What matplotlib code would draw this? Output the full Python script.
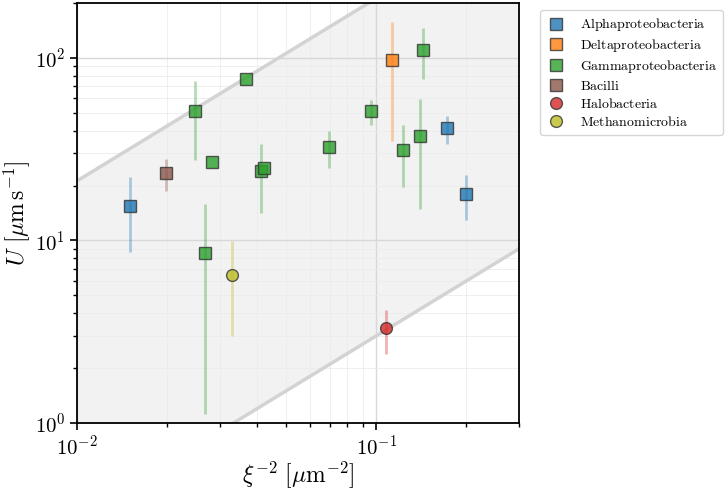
import numpy as np
import matplotlib
matplotlib.use("Agg")
import matplotlib.pyplot as plt

plt.rcParams['mathtext.fontset'] = 'cm'
plt.rcParams['font.family'] = 'serif'
plt.rcParams['font.serif'] = ['cmr10', 'DejaVu Serif']
plt.rcParams['axes.formatter.use_mathtext'] = True

classes = ["Alphaproteobacteria", "Deltaproteobacteria", "Gammaproteobacteria",
           "Bacilli", "Halobacteria", "Methanomicrobia"]
colors = ["tab:blue", "tab:orange", "tab:green", "tab:brown", "tab:red", "tab:olive"]
markers = ["s", "s", "s", "s", "o", "o"]

# xi^-2 [um^-2], U [um/s], error bar low/high
alpha_x = [0.0150, 0.173, 0.200]
alpha_u = [15.4, 41.1, 17.9]
alpha_lo = [8.6, 33.8, 13.0]
alpha_hi = [22.2, 48.2, 22.9]

delta_x = [0.1125]
delta_u = [97.0]
delta_lo = [34.9]
delta_hi = [158.0]

gamma_x = [0.0248, 0.0366, 0.0283, 0.0412, 0.0420, 0.0267, 0.0693, 0.0960, 0.1432, 0.1225, 0.1396]
gamma_u = [50.9, 77.1, 26.8, 24.0, 24.8, 8.57, 32.4, 50.9, 111.0, 31.5, 37.3]
gamma_lo = [27.6, 77.1, 26.8, 14.2, 24.8, 1.12, 25.0, 42.9, 76.5, 19.7, 14.9]
gamma_hi = [74.3, 77.1, 26.8, 33.8, 24.8, 15.9, 39.6, 58.9, 145.0, 43.0, 59.2]

bacilli_x = [0.0199]
bacilli_u = [23.3]
bacilli_lo = [18.7]
bacilli_hi = [27.8]

halo_x = [0.1077]
halo_u = [3.30]
halo_lo = [2.39]
halo_hi = [4.18]

methano_x = [0.0329]
methano_u = [6.46]
methano_lo = [3.01]
methano_hi = [9.92]

groups = [
    (alpha_x, alpha_u, alpha_lo, alpha_hi),
    (delta_x, delta_u, delta_lo, delta_hi),
    (gamma_x, gamma_u, gamma_lo, gamma_hi),
    (bacilli_x, bacilli_u, bacilli_lo, bacilli_hi),
    (halo_x, halo_u, halo_lo, halo_hi),
    (methano_x, methano_u, methano_lo, methano_hi),
]

# band boundaries U = k * xi^-2
k_upper = 2120.0
k_lower = 30.0

fig = plt.figure(figsize=(7.28, 4.91), dpi=100)
ax = fig.add_axes([0.1058, 0.1385, 0.6071, 0.8554])
ax.set_xscale("log")
ax.set_yscale("log")

xs = np.logspace(-2.2, 0, 200)
ax.fill_between(xs, k_lower * xs, k_upper * xs, color="#f2f2f2", zorder=0)
ax.plot(xs, k_upper * xs, color="#d3d3d3", lw=2.5, zorder=1)
ax.plot(xs, k_lower * xs, color="#d3d3d3", lw=2.5, zorder=1)

for (x, u, lo, hi), c, m, name in zip(groups, colors, markers, classes):
    x = np.array(x); u = np.array(u)
    yerr = np.array([u - np.array(lo), np.array(hi) - u])
    ax.errorbar(x, u, yerr=yerr, fmt="none", ecolor=c, alpha=0.35, elinewidth=2, zorder=2)
    ax.plot(x, u, ls="none", marker=m, ms=8.5, mfc=c, mec="#333333",
            alpha=0.8, mew=1.0, label=r"$\mathrm{%s}$" % name, zorder=3)

ax.set_xlim(0.01, 0.3)
ax.set_ylim(1, 200)
ax.grid(True, which="major", color="#d8d8d8", lw=1.0, zorder=0)
ax.grid(True, which="minor", color="#ececec", lw=0.6, zorder=0)
ax.set_axisbelow(True)
for s in ax.spines.values():
    s.set_linewidth(1.3)
ax.tick_params(which="major", length=5, width=1.2, labelsize=15)
ax.tick_params(which="minor", length=3, width=1.0, labelbottom=False, labelleft=False)
ax.set_xlabel(r"$\xi^{-2}\ [\mu\mathrm{m}^{-2}]$", fontsize=17, labelpad=0)
ax.set_ylabel(r"$U\ [\mu\mathrm{m}\,\mathrm{s}^{-1}]$", fontsize=17, labelpad=2)

ax.legend(loc="upper left", bbox_to_anchor=(1.0475, 0.983), borderaxespad=0,
          fontsize=10, frameon=True, edgecolor="#cccccc", fancybox=True,
          handletextpad=1.0, handlelength=1.4, labelspacing=0.28, borderpad=0.45)

fig.savefig("out.png", dpi=100)
